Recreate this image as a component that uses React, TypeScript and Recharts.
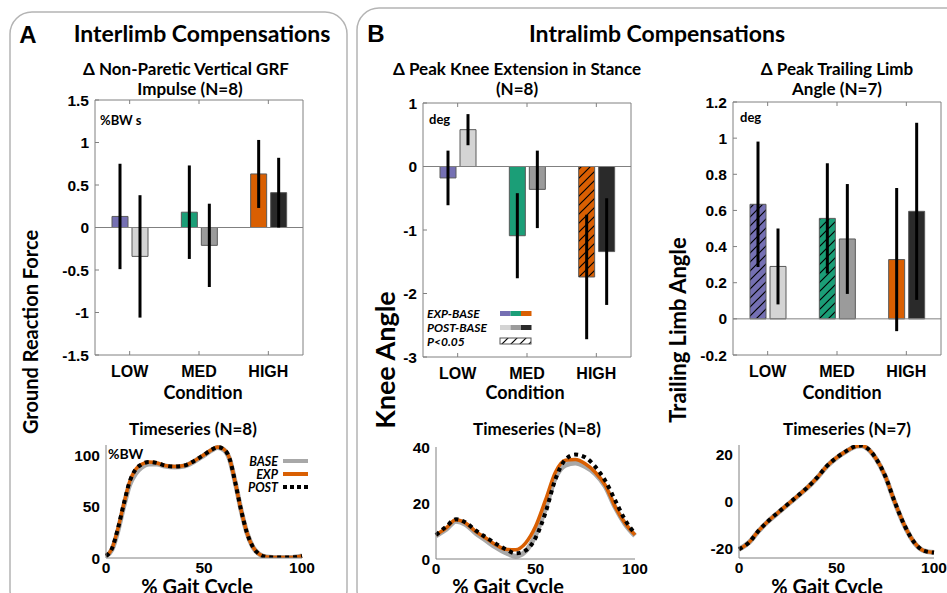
import React from 'react';
import { BarChart, Bar, XAxis, YAxis, ErrorBar, Cell, ReferenceLine, LineChart, Line } from 'recharts';

// ---------- categories ----------
const conditions = ['LOW', 'MED', 'HIGH'];

// ---------- Panel A: Δ non-paretic vertical GRF impulse (%BW s) ----------
const grfExp = [0.13, 0.18, 0.63];
const grfExpErr = [0.62, 0.55, 0.4];
const grfPost = [-0.34, -0.21, 0.41];
const grfPostErr = [0.72, 0.49, 0.41];
const grfExpSig = [false, false, false];
const grfTicks = [-1.5, -1, -0.5, 0, 0.5, 1, 1.5];

// ---------- Panel B: Δ peak knee extension in stance (deg) ----------
const kneeExp = [-0.18, -1.09, -1.74];
const kneeExpErr = [0.43, 0.67, 0.98];
const kneePost = [0.58, -0.36, -1.34];
const kneePostErr = [0.245, 0.61, 0.84];
const kneeExpSig = [false, false, true];
const kneeTicks = [-3, -2, -1, 0, 1];

// ---------- Panel C: Δ peak trailing limb angle (deg) ----------
const tlaExp = [0.634, 0.556, 0.328];
const tlaExpErr = [0.347, 0.305, 0.396];
const tlaPost = [0.29, 0.442, 0.595];
const tlaPostErr = [0.21, 0.304, 0.49];
const tlaExpSig = [true, true, false];
const tlaTicks = [-0.2, 0, 0.2, 0.4, 0.6, 0.8, 1, 1.2];

// ---------- Timeseries: GRF (%BW) ----------
const grfPct = [0, 3, 6, 9, 12, 15, 18, 22, 26, 30, 35, 40, 45, 50, 54, 57, 60, 63, 66, 69, 72, 75, 78, 82, 88, 94, 100];
const grfBaseTs = [2, 8, 26, 50, 71, 82, 88, 91.5, 91.5, 89.5, 88.5, 89.5, 94, 100, 105, 107.5, 105.5, 96.5, 73, 46, 24, 10.5, 4, 1, 0.5, 0.5, 2];
const grfExpTs = [2, 9, 28, 52, 74, 86, 91, 93.5, 92.5, 90, 89, 90, 94.5, 100.5, 105.5, 108, 106, 97, 73, 46, 24, 10.5, 4, 1, 0.5, 0.5, 2];
const grfPostTs = [2, 9, 28, 52, 74, 86, 91, 93.5, 92.5, 90, 89, 90, 94.5, 100.5, 105.5, 108, 106, 97, 73, 46, 24, 10.5, 4, 1, 0.5, 0.5, 2];

// ---------- Timeseries: knee angle (deg) ----------
const kneePct = [0, 5, 10, 15, 20, 25, 30, 35, 40, 45, 50, 55, 60, 65, 70, 75, 80, 85, 90, 95, 100];
const kneeBaseTs = [8.3, 10.5, 13.5, 12.3, 9.2, 6.7, 4.2, 2.2, 1.0, 2.8, 8.5, 18, 29, 33.5, 34.3, 33, 30.5, 26, 18.5, 12.5, 8.3];
const kneeExpTs = [8.6, 11, 14, 12.8, 9.8, 7.5, 5.1, 3.5, 3.3, 5.7, 11.6, 21, 31, 35.3, 35.5, 34, 31, 26.4, 18.7, 12.8, 8.6];
const kneePostTs = [8.6, 11.5, 14.2, 13, 10.2, 7.8, 5.5, 3.5, 2.0, 3.0, 7.5, 16.5, 28.5, 35.5, 37.3, 36.3, 33, 28, 21, 14, 9];

// ---------- Timeseries: trailing limb angle (deg) ----------
const tlaPct = [0, 5, 10, 15, 20, 25, 30, 35, 40, 45, 50, 55, 60, 63, 66, 70, 75, 80, 85, 90, 95, 100];
const tlaBaseTs = [-20.3, -17.5, -12.6, -8.4, -4.8, -1.3, 2.2, 5.8, 10, 14.9, 18.5, 21.3, 23.4, 23.7, 22.4, 18.5, 10.7, -0.6, -10.5, -17.6, -21, -21.7];
const tlaExpTs = [-20.3, -17.5, -12.5, -8.3, -4.7, -1.2, 2.3, 5.9, 10.1, 15, 18.6, 21.4, 23.5, 23.8, 22.5, 18.6, 10.8, -0.5, -10.4, -17.5, -21, -21.7];
const tlaPostTs = [-20.3, -17.5, -12.5, -8.3, -4.7, -1.2, 2.3, 5.9, 10.1, 15, 18.6, 21.4, 23.5, 23.8, 22.5, 18.6, 10.8, -0.5, -10.4, -17.5, -21, -21.7];

// ---------- styles ----------
const expColors = ['#7570b3', '#1b9e77', '#d95f02'];
const postColors = ['#d4d4d4', '#9b9b9b', '#2a2a2a'];
const AX = '#808080';
const CAL = 'Lato, "Open Sans", sans-serif';
const ARI = '"Liberation Sans", Arial, sans-serif';

function barRows(exp: number[], expErr: number[], post: number[], postErr: number[], sig: boolean[]) {
  return conditions.map((c, i) => ({ cat: c, exp: exp[i], expErr: expErr[i], post: post[i], postErr: postErr[i], sig: sig[i] }));
}
function tsRows(pct: number[], base: number[], exp: number[], post: number[]) {
  return pct.map((x, i) => ({ x, base: base[i], exp: exp[i], post: post[i] }));
}

const tickStyle = { fill: '#000', fontSize: 15.5, fontWeight: 700, fontFamily: ARI };

function BarPanel({ box, data, domain, ticks }: any) {
  const [x0, x1, y0, y1] = box;
  const yw = 65, topPad = 10, xh = 35, rightPad = 6;
  const left = x0 - yw;
  const top = y0 - topPad;
  const width = x1 - left + rightPad;
  const height = y1 - top + xh;
  return (
    <div style={{ position: 'absolute', left, top }}>
      <BarChart width={width} height={height} data={data} margin={{ top: topPad - 1, right: rightPad - 1, left: 0, bottom: 0 }} barSize={16} barGap={4}>
        <XAxis dataKey="cat" height={xh} tickSize={-4} tickMargin={15} axisLine={{ stroke: AX }} tickLine={{ stroke: AX }} tick={{ ...tickStyle, fontSize: 16 }} interval={0} />
        <XAxis dataKey="cat" xAxisId="top" orientation="top" height={1} tickSize={-4} axisLine={{ stroke: AX }} tickLine={{ stroke: AX }} tickFormatter={() => ''} interval={0} />
        <YAxis type="number" domain={domain} ticks={ticks} width={yw} tickSize={-4} tickMargin={10} axisLine={{ stroke: AX }} tickLine={{ stroke: AX }} tick={tickStyle} interval={0} allowDataOverflow />
        <YAxis yAxisId="r" orientation="right" type="number" domain={domain} ticks={ticks} width={1} tickSize={-4} axisLine={{ stroke: AX }} tickLine={{ stroke: AX }} tickFormatter={() => ''} interval={0} />
        <ReferenceLine y={0} stroke={AX} strokeWidth={1} />
        <Bar dataKey="exp" isAnimationActive={false} stroke="#5a5a5a" strokeWidth={1}>
          {data.map((d: any, i: number) => (
            <Cell key={i} fill={d.sig ? `url(#hatch-${i})` : expColors[i]} />
          ))}
          <ErrorBar dataKey="expErr" width={0} strokeWidth={3} stroke="#000" direction="y" />
        </Bar>
        <Bar dataKey="post" isAnimationActive={false} stroke="#5a5a5a" strokeWidth={1}>
          {data.map((d: any, i: number) => (
            <Cell key={i} fill={postColors[i]} />
          ))}
          <ErrorBar dataKey="postErr" width={0} strokeWidth={3} stroke="#000" direction="y" />
        </Bar>
      </BarChart>
    </div>
  );
}

function TsPanel({ box, data, domain, ticks, rightPad = 20 }: any) {
  const [x0, x1, y0, y1] = box;
  const yw = 40, topPad = 12, xh = 28;
  const left = x0 - yw;
  const top = y0 - topPad;
  const width = x1 - left + rightPad;
  const height = y1 - top + xh;
  return (
    <div style={{ position: 'absolute', left, top }}>
      <LineChart width={width} height={height} data={data} margin={{ top: topPad, right: rightPad, left: 0, bottom: 0 }}>
        <XAxis dataKey="x" type="number" domain={[0, 100]} ticks={[0, 50, 100]} height={xh} tickSize={0} tickMargin={4} axisLine={{ stroke: AX }} tickLine={false} tick={tickStyle} interval={0} />
        <YAxis type="number" domain={domain} ticks={ticks} width={yw} tickSize={0} tickMargin={6} axisLine={{ stroke: AX }} tickLine={false} tick={tickStyle} interval={0} allowDataOverflow />
        <Line dataKey="base" type="monotone" stroke="#a8a8a8" strokeWidth={5} dot={false} isAnimationActive={false} />
        <Line dataKey="exp" type="monotone" stroke="#d95f02" strokeWidth={3.5} dot={false} isAnimationActive={false} />
        <Line dataKey="post" type="monotone" stroke="#000" strokeWidth={4} strokeDasharray="4 4" dot={false} isAnimationActive={false} />
      </LineChart>
    </div>
  );
}

function T({ x, y, children, size = 17, anchor = 'middle', font = CAL, italic = false, rotate = false }: any) {
  return (
    <text
      x={x}
      y={y}
      fontSize={size}
      fontFamily={font}
      fontWeight={700}
      fontStyle={italic ? 'italic' : 'normal'}
      textAnchor={anchor}
      dominantBaseline="central"
      fill="#000"
      transform={rotate ? `rotate(-90 ${x} ${y})` : undefined}
    >
      {children}
    </text>
  );
}

export default function App() {
  const grfBars = barRows(grfExp, grfExpErr, grfPost, grfPostErr, grfExpSig);
  const kneeBars = barRows(kneeExp, kneeExpErr, kneePost, kneePostErr, kneeExpSig);
  const tlaBars = barRows(tlaExp, tlaExpErr, tlaPost, tlaPostErr, tlaExpSig);
  const grfTs = tsRows(grfPct, grfBaseTs, grfExpTs, grfPostTs);
  const kneeTs = tsRows(kneePct, kneeBaseTs, kneeExpTs, kneePostTs);
  const tlaTs = tsRows(tlaPct, tlaBaseTs, tlaExpTs, tlaPostTs);

  const hatchColors = [...expColors, '#ffffff'];

  return (
    <div style={{ position: 'absolute', left: 0, top: 0, width: 947, height: 593, overflow: 'hidden', background: '#fff' }}>
      <svg width={0} height={0} style={{ position: 'absolute' }}>
        <defs>
          {hatchColors.map((c, i) => (
            <pattern key={i} id={i < 3 ? `hatch-${i}` : 'hatch-w'} patternUnits="userSpaceOnUse" width={9} height={9}>
              <rect x={0} y={0} width={9} height={9} fill={c} />
              <path d="M-2,2 L2,-2 M0,9 L9,0 M7,11 L11,7" stroke="#000" strokeWidth={1.2} />
            </pattern>
          ))}
        </defs>
      </svg>

      {/* panel frames */}
      <svg width={947} height={593} style={{ position: 'absolute', left: 0, top: 0 }}>
        <rect x={10} y={12} width={337} height={600} rx={22} fill="none" stroke="#b4b4b4" strokeWidth={1.5} />
        <rect x={357} y={8} width={620} height={604} rx={22} fill="none" stroke="#b4b4b4" strokeWidth={1.5} />
      </svg>

      <BarPanel box={[95, 303, 100, 355]} data={grfBars} domain={[-1.5, 1.5]} ticks={grfTicks} />
      <BarPanel box={[423, 631, 103, 357]} data={kneeBars} domain={[-3, 1]} ticks={kneeTicks} />
      <BarPanel box={[733, 941, 102, 355]} data={tlaBars} domain={[-0.2, 1.2]} ticks={tlaTicks} />

      <TsPanel box={[106, 302, 445, 558]} data={grfTs} domain={[0, 110]} ticks={[0, 50, 100]} />
      <TsPanel box={[436, 635, 447, 559]} data={kneeTs} domain={[0, 40]} ticks={[0, 20, 40]} />
      <TsPanel box={[739, 934, 445, 558]} data={tlaTs} domain={[-24, 24]} ticks={[-20, 0, 20]} rightPad={13} />

      <svg width={947} height={593} style={{ position: 'absolute', left: 0, top: 0, pointerEvents: 'none' }}>
        <T x={28} y={34} size={24} font={ARI}>A</T>
        <T x={202} y={33} size={23}>Interlimb Compensations</T>
        <T x={376} y={33} size={24} font={ARI}>B</T>
        <T x={657} y={33} size={23}>Intralimb Compensations</T>

        <T x={186} y={68}>Δ Non-Paretic Vertical GRF</T>
        <T x={190} y={88}>Impulse (N=8)</T>
        <T x={517} y={68}>Δ Peak Knee Extension in Stance</T>
        <T x={517} y={88}>(N=8)</T>
        <T x={837} y={68}>Δ Peak Trailing Limb</T>
        <T x={837} y={88}>Angle (N=7)</T>

        <T x={100} y={120} size={13} anchor="start">%BW s</T>
        <T x={429} y={119} size={13} anchor="start">deg</T>
        <T x={740} y={117} size={13} anchor="start">deg</T>

        <T x={203} y={392} size={18}>Condition</T>
        <T x={525} y={392} size={18}>Condition</T>
        <T x={842} y={392} size={18}>Condition</T>

        <T x={30} y={332} size={20} rotate>Ground Reaction Force</T>
        <T x={384} y={360} size={27} rotate>Knee Angle</T>
        <T x={677} y={330} size={22} rotate>Trailing Limb Angle</T>

        <T x={193} y={428}>Timeseries (N=8)</T>
        <T x={537} y={428}>Timeseries (N=8)</T>
        <T x={847} y={428}>Timeseries (N=7)</T>

        <T x={197} y={586} size={20}>% Gait Cycle</T>
        <T x={508} y={586} size={20}>% Gait Cycle</T>
        <T x={827} y={586} size={20}>% Gait Cycle</T>

        <T x={108} y={453} size={14} anchor="start">%BW</T>

        {/* timeseries legend */}
        <T x={278} y={461} size={12.5} anchor="end" italic>BASE</T>
        <line x1={283} x2={308} y1={461} y2={461} stroke="#a8a8a8" strokeWidth={4} />
        <T x={278} y={474} size={12.5} anchor="end" italic>EXP</T>
        <line x1={283} x2={308} y1={474} y2={474} stroke="#d95f02" strokeWidth={4} />
        <T x={278} y={487} size={12.5} anchor="end" italic>POST</T>
        <line x1={283} x2={308} y1={487} y2={487} stroke="#000" strokeWidth={4} strokeDasharray="4 3" />

        {/* bar legend */}
        <T x={427} y={313} size={12} anchor="start" italic>EXP-BASE</T>
        {expColors.map((c, i) => (
          <rect key={'e' + i} x={500 + i * 10.5} y={311} width={10.5} height={5} fill={c} />
        ))}
        <T x={427} y={327} size={12} anchor="start" italic>POST-BASE</T>
        {postColors.map((c, i) => (
          <rect key={'p' + i} x={500 + i * 10.5} y={325} width={10.5} height={5} fill={c} />
        ))}
        <T x={427} y={341} size={12} anchor="start" italic>P&lt;0.05</T>
        <rect x={500} y={338} width={31} height={6} fill="url(#hatch-w)" stroke="#555" strokeWidth={1} />
      </svg>
    </div>
  );
}
